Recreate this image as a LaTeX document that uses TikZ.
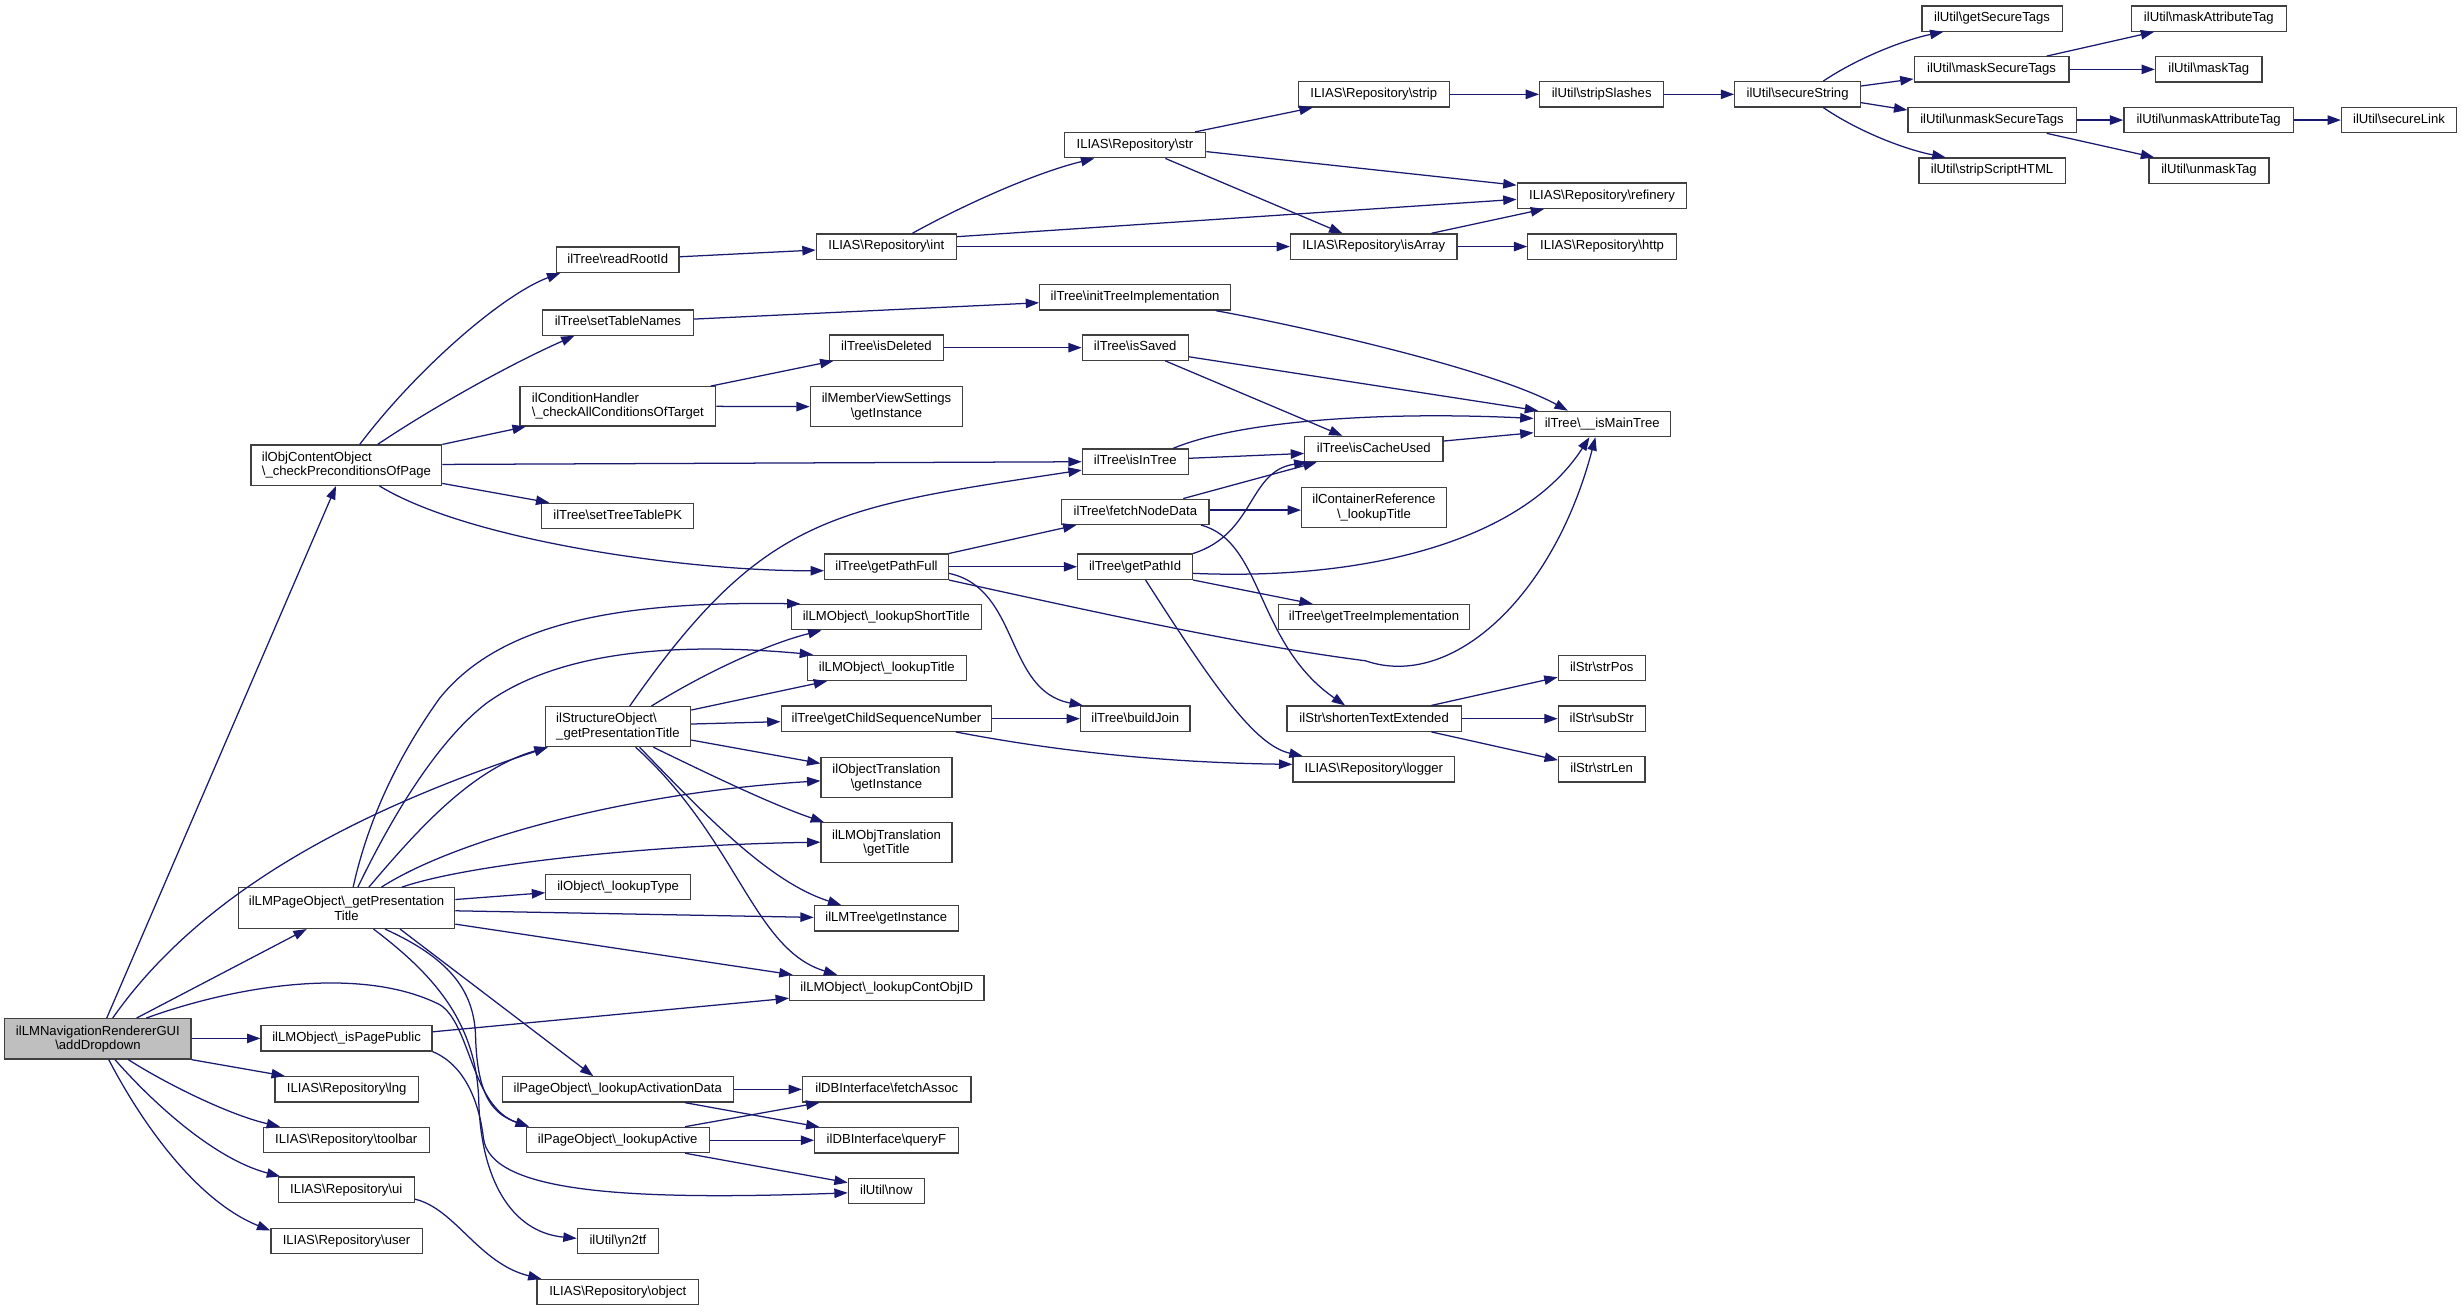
\documentclass[tikz,border=0pt]{standalone}
\usepackage{fontspec}
\setmainfont{Liberation Sans}
\usetikzlibrary{arrows.meta}
\definecolor{edgec}{HTML}{191970}
\definecolor{rootfill}{HTML}{BFBFBF}
\def\bsl{\textbackslash}
\begin{document}
\begin{tikzpicture}[x=1pt,y=-1pt,
  box/.style={draw=black!75, line width=0.8pt, fill=white, inner sep=0pt, minimum height=16.1pt, font=\fontsize{8.35}{9.2}\selectfont, text height=6pt, text depth=1.75pt},
  box2/.style={draw=black!75, line width=0.8pt, fill=white, inner sep=0pt, minimum height=25.5pt, font=\fontsize{8.35}{9.2}\selectfont, align=center},
  box2l/.style={box2, align=left},
  e/.style={draw=edgec, line width=0.8pt, -{Triangle[length=8.5pt,width=6pt]}}
]
\useasboundingbox[fill=white] (0,0) rectangle (1568,835.3);
% nodes
\node[box2, fill=rootfill, minimum width=118.7pt, minimum height=25.7pt] (A) at (62.4,661.9) {ilLMNavigationRendererGUI\\\bsl addDropdown};
\node[box2l, minimum width=121.4pt, minimum height=25.7pt] (cp) at (220.7,296.4) {ilObjContentObject\\\bsl\_checkPreconditionsOfPage};
\node[box, minimum width=78.1pt] (rrid) at (393.6,165.5) {ilTree\bsl readRootId};
\node[box, minimum width=96.2pt] (stn) at (393.7,205.5) {ilTree\bsl setTableNames};
\node[box2l, minimum width=124.8pt, minimum height=25pt] (cond) at (393.7,258.9) {ilConditionHandler\\\bsl\_checkAllConditionsOfTarget};
\node[box, minimum width=96.9pt] (sttpk) at (393.6,328.7) {ilTree\bsl setTreeTablePK};
\node[box, minimum width=89.2pt] (int) at (564.7,157.1) {ILIAS\bsl Repository\bsl int};
\node[box, minimum width=90.2pt] (str) at (723.1,92.5) {ILIAS\bsl Repository\bsl str};
\node[box, minimum width=96pt] (strip) at (875.3,60.1) {ILIAS\bsl Repository\bsl strip};
\node[box, minimum width=79pt] (sslash) at (1020.5,60.1) {ilUtil\bsl stripSlashes};
\node[box, minimum width=80.1pt] (sstr) at (1145.3,60.1) {ilUtil\bsl secureString};
\node[box, minimum width=89.4pt] (gst) at (1269.2,11.8) {ilUtil\bsl getSecureTags};
\node[box, minimum width=98.6pt] (mst) at (1268.9,44.2) {ilUtil\bsl maskSecureTags};
\node[box, minimum width=107.2pt] (ust) at (1269.2,76.5) {ilUtil\bsl unmaskSecureTags};
\node[box, minimum width=93.2pt] (ssh) at (1269.2,108.7) {ilUtil\bsl stripScriptHTML};
\node[box, minimum width=98.6pt] (mat) at (1407.3,11.8) {ilUtil\bsl maskAttributeTag};
\node[box, minimum width=67.9pt] (mtag) at (1407.3,44.2) {ilUtil\bsl maskTag};
\node[box, minimum width=108pt] (uat) at (1407.2,76.5) {ilUtil\bsl unmaskAttributeTag};
\node[box, minimum width=76.4pt] (utag) at (1407.4,108.7) {ilUtil\bsl unmaskTag};
\node[box, minimum width=73.3pt] (slink) at (1528.5,76.5) {ilUtil\bsl secureLink};
\node[box, minimum width=108.1pt] (ref) at (1020.7,124.7) {ILIAS\bsl Repository\bsl refinery};
\node[box, minimum width=106.1pt] (isarr) at (875.3,157.1) {ILIAS\bsl Repository\bsl isArray};
\node[box, minimum width=94.5pt] (http) at (1020.7,157.1) {ILIAS\bsl Repository\bsl http};
\node[box, minimum width=121.6pt] (iti) at (723.2,189.5) {ilTree\bsl initTreeImplementation};
\node[box, minimum width=72.4pt] (isdel) at (564.8,221.5) {ilTree\bsl isDeleted};
\node[box, minimum width=67.4pt] (issav) at (723.3,221.5) {ilTree\bsl isSaved};
\node[box2, minimum width=97pt, minimum height=25.4pt] (mvs) at (564.8,259.1) {ilMemberViewSettings\\\bsl getInstance};
\node[box, minimum width=86.7pt] (imt) at (1020.8,270.1) {ilTree\bsl\_\_isMainTree};
\node[box, minimum width=67.4pt] (iit) at (723.3,294.1) {ilTree\bsl isInTree};
\node[box, minimum width=88pt] (icu) at (875.3,286.1) {ilTree\bsl isCacheUsed};
\node[box, minimum width=93.7pt] (fnd) at (723.4,326.1) {ilTree\bsl fetchNodeData};
\node[box2, minimum width=92.2pt] (cref) at (875.4,323.5) {ilContainerReference\\\bsl\_lookupTitle};
\node[box, minimum width=78.8pt] (gpf) at (564.8,361.1) {ilTree\bsl getPathFull};
\node[box, minimum width=73.1pt] (gpi) at (723.2,361.1) {ilTree\bsl getPathId};
\node[box, minimum width=121.7pt] (gti) at (875.4,393.2) {ilTree\bsl getTreeImplementation};
\node[box, minimum width=121pt] (lst) at (564.7,393.2) {ilLMObject\bsl\_lookupShortTitle};
\node[box, minimum width=101.3pt] (ltit) at (565,425.5) {ilLMObject\bsl\_lookupTitle};
\node[box2l, minimum width=92.6pt, minimum height=25.4pt] (so) at (393.7,463) {ilStructureObject\bsl\\\_getPresentationTitle};
\node[box, minimum width=134.2pt] (gcsn) at (564.8,457.9) {ilTree\bsl getChildSequenceNumber};
\node[box, minimum width=69.8pt] (bj) at (723.3,457.9) {ilTree\bsl buildJoin};
\node[box2, minimum width=83.4pt] (otr) at (564.8,495.3) {ilObjectTranslation\\\bsl getInstance};
\node[box2, minimum width=83.4pt] (lmotr) at (564.8,537) {ilLMObjTranslation\\\bsl getTitle};
\node[box, minimum width=55.4pt] (spos) at (1020.5,425.5) {ilStr\bsl strPos};
\node[box, minimum width=110.9pt] (shte) at (875.5,457.9) {ilStr\bsl shortenTextExtended};
\node[box, minimum width=55.4pt] (sub) at (1020.5,457.9) {ilStr\bsl subStr};
\node[box, minimum width=103pt] (logger) at (875.3,490.2) {ILIAS\bsl Repository\bsl logger};
\node[box, minimum width=55pt] (slen) at (1020.5,490.2) {ilStr\bsl strLen};
\node[box2, minimum width=137.8pt, minimum height=25.9pt] (lp) at (220.8,578.6) {ilLMPageObject\bsl\_getPresentation\\Title};
\node[box, minimum width=92.1pt] (ltype) at (393.8,565) {ilObject\bsl\_lookupType};
\node[box, minimum width=91.7pt] (lmtree) at (564.7,585.1) {ilLMTree\bsl getInstance};
\node[box, minimum width=123.9pt] (coid) at (565,629.5) {ilLMObject\bsl\_lookupContObjID};
\node[box, minimum width=109pt] (ipp) at (220.8,661.6) {ilLMObject\bsl\_isPagePublic};
\node[box, minimum width=91.3pt] (lng) at (220.9,694) {ILIAS\bsl Repository\bsl lng};
\node[box, minimum width=105.8pt] (tb) at (220.6,726.3) {ILIAS\bsl Repository\bsl toolbar};
\node[box, minimum width=86.6pt] (ui) at (220.6,758) {ILIAS\bsl Repository\bsl ui};
\node[box, minimum width=96.4pt] (user) at (220.8,790.8) {ILIAS\bsl Repository\bsl user};
\node[box, minimum width=147.2pt] (lad) at (393.6,694.1) {ilPageObject\bsl\_lookupActivationData};
\node[box, minimum width=116.5pt] (lac) at (393.6,726.3) {ilPageObject\bsl\_lookupActive};
\node[box, minimum width=107.3pt] (fa) at (565,694.1) {ilDBInterface\bsl fetchAssoc};
\node[box, minimum width=91.4pt] (qf) at (564.8,726.5) {ilDBInterface\bsl queryF};
\node[box, minimum width=48.4pt] (now) at (564.7,758.8) {ilUtil\bsl now};
\node[box, minimum width=51.8pt] (yn) at (393.7,790.8) {ilUtil\bsl yn2tf};
\node[box, minimum width=102.9pt] (obj) at (393.6,823.3) {ILIAS\bsl Repository\bsl object};
% edges from root
\draw[e] (A.north -| 68,0) -- (cp.south -| 214.1,0);
\draw[e] (A.north -| 87,0) -- (lp.south -| 195.4,0);
\draw[e] (A.north -| 71.8,0) .. controls (134,560) and (244.5,511) .. (so.south -| 349,0);
\draw[e] (A.north -| 93.2,0) .. controls (150,628) and (230,615) .. (280,640) .. controls (300,652) and (300,705) .. (lac.north -| 337,0);
\draw[e] (A.east |- ipp.west) -- (ipp.west);
\draw[e] (A.south east) -- (lng.north -| 181.5,0);
\draw[e] (A.south -| 81.8,0) .. controls (105,690) and (145,710) .. (tb.north -| 178.4,0);
\draw[e] (A.south -| 73.3,0) .. controls (95,700) and (135,738) .. (ui.north -| 178.5,0);
\draw[e] (A.south -| 69.3,0) .. controls (90,715) and (125,765) .. (user.west |- 0,784);
% isPagePublic, ui
\draw[e] (ipp.east |- 0,657.4) -- (coid.west |- 0,636);
\draw[e] (ipp.south east) .. controls (295,678) and (305,700) .. (308,725) .. controls (312,760) and (400,765) .. (now.west |- 0,760);
\draw[e] (ui.east |- 0,764) .. controls (290,770) and (305,805) .. (obj.north -| 345,0);
% ilLMPageObject
\draw[e] (lp.north -| 225,0) .. controls (235,520) and (255,480) .. (280,445) .. controls (320,395) and (400,383) .. (lst.north -| 510,0);
\draw[e] (lp.north -| 228,0) .. controls (245,530) and (275,475) .. (310,448) .. controls (360,412) and (440,410) .. (ltit.north -| 518,0);
\draw[e] (lp.north -| 235,0) .. controls (265,530) and (300,490) .. (so.south -| 349,0);
\draw[e] (lp.north -| 243,0) .. controls (290,535) and (400,505) .. (otr.west |- 0,497.5);
\draw[e] (lp.north -| 256,0) .. controls (300,550) and (420,538) .. (lmotr.west |- 0,536.6);
\draw[e] (lp.east |- 0,573.1) -- (ltype.west |- 0,568.8);
\draw[e] (lp.east |- 0,580.3) -- (lmtree.west |- 0,584.5);
\draw[e] (lp.east |- 0,588.8) -- (coid.north -| 505,0);
\draw[e] (lp.south -| 254.9,0) -- (lad.north -| 378,0);
\draw[e] (lp.south -| 245.3,0) .. controls (285,610) and (302,630) .. (303,660) .. controls (304,700) and (315,710) .. (lac.north -| 337,0);
\draw[e] (lp.south -| 238,0) .. controls (275,620) and (303,650) .. (305,700) .. controls (306,750) and (325,785) .. (yn.west |- 0,789);
% ilStructureObject
\draw[e] (so.north -| 401.2,0) .. controls (486.7,327.3) and (531.2,323.5) .. (iit.west |- 0,299.5);
\draw[e] (so.north -| 415,0) .. controls (450,428) and (490,410) .. (lst.south -| 523.4,0);
\draw[e] (so.east |- 0,452.4) -- (ltit.south -| 527,0);
\draw[e] (so.east |- 0,461.3) -- (gcsn.west |- 0,459.8);
\draw[e] (so.east |- 0,471.5) -- (otr.west |- 0,486.4);
\draw[e] (so.south -| 416.3,0) .. controls (445,490) and (490,512) .. (lmotr.north -| 525,0);
\draw[e] (so.south -| 407.5,0) .. controls (450,520) and (490,562) .. (lmtree.north -| 536,0);
\draw[e] (so.south -| 405,0) .. controls (470,535) and (480,605) .. (coid.north -| 533.4,0);
% ilObjContentObject
\draw[e] (cp.north -| 229.2,0) .. controls (265.2,235.5) and (319.8,187.9) .. (rrid.south -| 357,0);
\draw[e] (cp.north -| 240.6,0) .. controls (275,260) and (325,232) .. (stn.south -| 366,0);
\draw[e] (cp.north east) -- (cond.south -| 335,0);
\draw[e] (cp.east |- 0,295.9) -- (iit.west |- 0,294.2);
\draw[e] (cp.east |- 0,308) -- (sttpk.north -| 350,0);
\draw[e] (cp.south -| 241.8,0) .. controls (300,345) and (440,364) .. (gpf.west |- 0,363.6);
% second level
\draw[e] (rrid.east |- 0,163.6) -- (int.west |- 0,159.3);
\draw[e] (stn.east |- 0,203.3) -- (iti.west |- 0,192.9);
\draw[e] (cond.north -| 452.8,0) -- (isdel.south -| 531,0);
\draw[e] (cond.east) -- (mvs.west);
\draw[e] (int.north -| 581.3,0) .. controls (615,130) and (660,110) .. (str.south -| 697.2,0);
\draw[e] (int.east |- 0,150.8) -- (ref.west |- 0,127);
\draw[e] (int.east |- 0,157.1) -- (isarr.west |- 0,157.1);
\draw[e] (str.north -| 761.4,0) -- (strip.south -| 836.4,0);
\draw[e] (str.east |- 0,96.6) -- (ref.west |- 0,118);
\draw[e] (str.south -| 742.5,0) -- (isarr.north -| 855.3,0);
\draw[e] (strip.east) -- (sslash.west);
\draw[e] (sslash.east) -- (sstr.west);
\draw[e] (isarr.north -| 912,0) -- (ref.south -| 983.8,0);
\draw[e] (isarr.east) -- (http.west);
\draw[e] (sstr.north -| 1161.7,0) .. controls (1185,36) and (1215,25) .. (gst.south -| 1238.2,0);
\draw[e] (sstr.east |- 0,54.8) -- (mst.west |- 0,50.3);
\draw[e] (sstr.east |- 0,65.4) -- (ust.west |- 0,70.1);
\draw[e] (sstr.south -| 1161.7,0) .. controls (1185,84.5) and (1215,95.5) .. (ssh.north -| 1239.6,0);
\draw[e] (mst.north -| 1304,0) -- (mat.south -| 1372.5,0);
\draw[e] (mst.east) -- (mtag.west);
\draw[e] (ust.east) -- (uat.west);
\draw[e] (ust.south -| 1304,0) -- (utag.north -| 1372.5,0);
\draw[e] (uat.east) -- (slink.west);
\draw[e] (iti.south -| 774.7,0) .. controls (830,208) and (950,235) .. (imt.north -| 998.9,0);
\draw[e] (isdel.east) -- (issav.west);
\draw[e] (issav.east |- 0,227.3) -- (imt.north -| 980,0);
\draw[e] (issav.south -| 742.5,0) -- (icu.north -| 855.3,0);
\draw[e] (iit.north -| 747.5,0) .. controls (790,268) and (880,262) .. (imt.west |- 0,266.6);
\draw[e] (iit.east |- 0,292) -- (icu.west |- 0,288.9);
\draw[e] (icu.east |- 0,281) -- (imt.west |- 0,275.7);
\draw[e] (fnd.north -| 753.9,0) -- (icu.south -| 838.9,0);
\draw[e] (fnd.east |- 0,325) -- (cref.west |- 0,325);
\draw[e] (fnd.south -| 765.2,0) .. controls (805,345) and (800,410) .. (shte.north -| 857,0);
\draw[e] (gpf.north east) -- (fnd.south -| 685.8,0);
\draw[e] (gpf.east) -- (gpi.west);
\draw[e] (gpf.east |- 0,365.3) .. controls (650,375) and (640,440) .. (bj.north -| 690,0);
\draw[e] (gpf.south east) .. controls (720,395) and (800,412) .. (870,421) .. controls (925,440) and (990,380) .. (imt.south -| 1016.5,0);
\draw[e] (gpi.north east) .. controls (800,340) and (795,300) .. (icu.south -| 833,0);
\draw[e] (gpi.east |- 0,365.3) .. controls (870,370) and (970,345) .. (imt.south -| 1012.7,0);
\draw[e] (gpi.south east) -- (gti.north -| 836.4,0);
\draw[e] (gpi.south -| 729.9,0) .. controls (775,440) and (800,475) .. (logger.north -| 830,0);
\draw[e] (gcsn.east) -- (bj.west);
\draw[e] (gcsn.south -| 609,0) .. controls (680,480) and (750,486) .. (logger.west |- 0,487);
\draw[e] (shte.north -| 912,0) -- (spos.west |- 0,431.5);
\draw[e] (shte.east) -- (sub.west);
\draw[e] (shte.south -| 912,0) -- (slen.west |- 0,484.3);
\draw[e] (lad.east) -- (fa.west);
\draw[e] (lad.south -| 436.5,0) -- (qf.north -| 522.1,0);
\draw[e] (lac.north -| 436.5,0) -- (fa.south -| 522.1,0);
\draw[e] (lac.east |- 0,726.5) -- (qf.west);
\draw[e] (lac.south -| 436.5,0) -- (now.west |- 0,753.5);
\end{tikzpicture}
\end{document}
